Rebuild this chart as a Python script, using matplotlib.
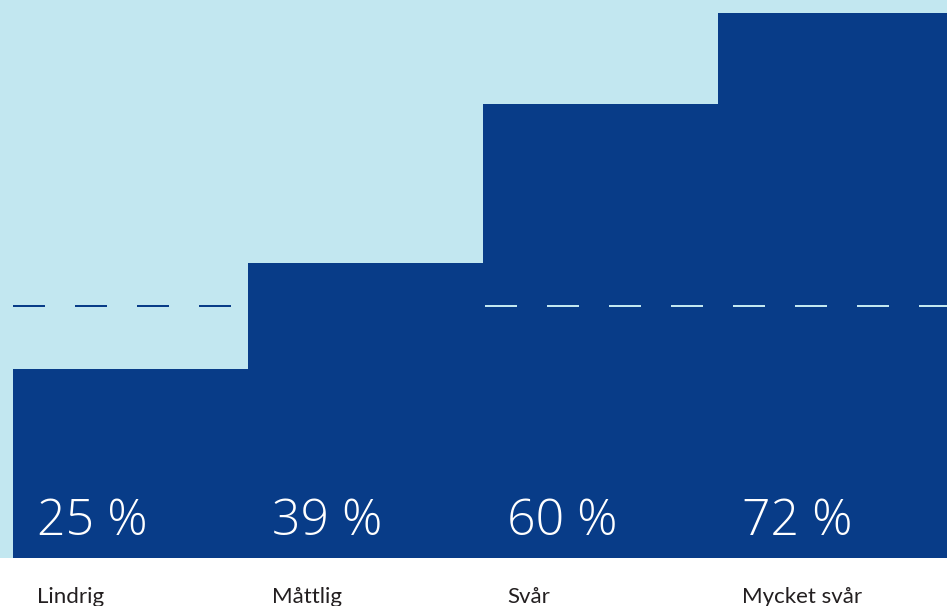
import matplotlib
matplotlib.use("Agg")
import matplotlib.pyplot as plt

# data
categories = ["Lindrig", "Måttlig", "Svår", "Mycket svår"]
values = [25, 39, 60, 72]
value_labels = ["25 %", "39 %", "60 %", "72 %"]
reference_level = 33.3

LIGHT = "#c2e7f0"
DARK = "#083c88"
TEXT = "#231f20"

plt.rcParams["lines.scale_dashes"] = False

W, H = 947, 606
fig = plt.figure(figsize=(W / 100, H / 100), dpi=100)
fig.patch.set_facecolor("white")

# axes spans the light area (top of image down to y=558 px)
ax = fig.add_axes([0, (H - 558) / H, 1, 558 / H])
ax.set_facecolor(LIGHT)

px_x = 235.0          # pixels per category
px_y = 7.57           # pixels per percent
x_left = -0.5 - 13 / px_x
ax.set_xlim(x_left, x_left + W / px_x)
ax.set_ylim(0, 558 / px_y)

x = list(range(len(categories)))
ax.bar(x, values, width=1.0, color=DARK, linewidth=0, zorder=2)

# dashed reference line, drawn where it lies over the light bg and the tall bars
dash = (32 * 0.72, 30 * 0.72)
ax.plot([-0.5, (233 - 13) / px_x - 0.5], [reference_level] * 2,
        color=DARK, lw=1.44, dashes=dash, dash_capstyle="butt", zorder=3)
ax.plot([1.5 + 2 / px_x, 3.5], [reference_level] * 2,
        color=LIGHT, lw=1.44, dashes=dash, dash_capstyle="butt", zorder=3)

for xi, lab, cat in zip(x, value_labels, categories):
    ax.text(xi - 0.5 + 24 / px_x, 23 / px_y, lab, color="white",
            fontsize=36, family="Open Sans", fontweight=300,
            ha="left", va="baseline", zorder=4)
    ax.text(xi - 0.5 + 24 / px_x, -45 / px_y, cat, color=TEXT,
            fontsize=16, family="Lato", ha="left", va="baseline",
            clip_on=False)

ax.set_xticks([])
ax.set_yticks([])
for s in ax.spines.values():
    s.set_visible(False)

fig.savefig("out.png", dpi=100, facecolor="white")
